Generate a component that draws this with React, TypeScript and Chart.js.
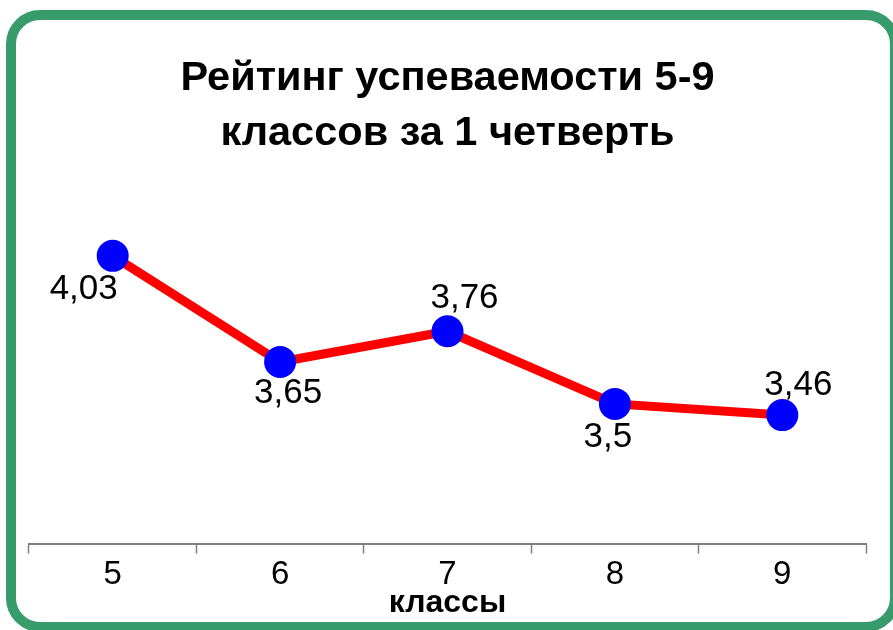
import React, { useEffect, useRef } from "react";
import { Chart, registerables } from "chart.js";

Chart.register(...registerables);

const categories = ["5", "6", "7", "8", "9"];
const ratings = [4.03, 3.65, 3.76, 3.5, 3.46];
const valueLabels = ["4,03", "3,65", "3,76", "3,5", "3,46"];
const titleLines = ["Рейтинг успеваемости 5-9", "классов за 1 четверть"];
const axisTitle = "классы";

// label placement relative to the point (dx, dy) in px
const labelOffsets = [
  [-29, 34],
  [8, 31],
  [17, -33],
  [-7, 33],
  [16, -30],
];

const FONT = "'Liberation Sans', Arial, sans-serif";

const valueLabelPlugin = {
  id: "valueLabels",
  afterDatasetsDraw(chart: any) {
    const meta = chart.getDatasetMeta(0);
    const ctx = chart.ctx;
    ctx.save();
    ctx.font = `35px ${FONT}`;
    ctx.fillStyle = "#000000";
    ctx.textAlign = "center";
    ctx.textBaseline = "middle";
    meta.data.forEach((pt: any, i: number) => {
      const [dx, dy] = labelOffsets[i];
      ctx.fillText(valueLabels[i], pt.x + dx, pt.y + dy);
    });
    ctx.restore();
  },
};

export default function App() {
  const ref = useRef<HTMLCanvasElement | null>(null);

  useEffect(() => {
    document.body.style.margin = "0";
    document.body.style.overflow = "hidden";
    const chart = new Chart(ref.current as HTMLCanvasElement, {
      type: "line",
      data: {
        labels: categories,
        datasets: [
          {
            data: ratings,
            borderColor: "#FF0000",
            borderWidth: 9,
            pointRadius: 16,
            pointHoverRadius: 16,
            pointBackgroundColor: "#0000FF",
            pointBorderColor: "#0000FF",
            pointBorderWidth: 0,
            tension: 0,
            clip: false as any,
          },
        ],
      },
      options: {
        animation: false,
        responsive: false,
        maintainAspectRatio: false,
        events: [],
        layout: { padding: { left: 29, right: 27, top: 0, bottom: 20 } },
        plugins: {
          legend: { display: false },
          tooltip: { enabled: false },
          title: {
            display: true,
            text: titleLines,
            color: "#000000",
            font: { family: FONT, size: 41.5, weight: "bold", lineHeight: 1.33 },
            padding: { top: 51, bottom: 19 },
          },
        },
        scales: {
          x: {
            offset: true,
            border: { display: true, color: "#808080", width: 2 },
            grid: {
              display: true,
              offset: true,
              drawOnChartArea: false,
              drawTicks: true,
              tickLength: 10,
              tickWidth: 1.5,
              tickColor: "#808080",
            },
            ticks: {
              color: "#000000",
              padding: 8,
              font: { family: FONT, size: 33, lineHeight: 0.8 },
            },
            title: {
              display: true,
              text: axisTitle,
              color: "#000000",
              font: { family: FONT, size: 32, weight: "bold", lineHeight: 0.4375 },
              padding: { top: 0, bottom: 0 },
            },
          },
          y: {
            display: false,
            min: 3,
            max: 4.3,
          },
        },
      },
      plugins: [valueLabelPlugin],
    });
    return () => chart.destroy();
  }, []);

  return (
    <div
      style={{
        position: "fixed",
        left: 0,
        top: 0,
        width: 893,
        height: 630,
        overflow: "hidden",
        background: "#ffffff",
      }}
    >
      <div
        style={{
          position: "absolute",
          left: 6,
          top: 10,
          width: 894,
          height: 622,
          boxSizing: "border-box",
          border: "10px solid #379B6B",
          borderRadius: 34,
        }}
      />
      <canvas
        ref={ref}
        width={893}
        height={630}
        style={{ position: "absolute", left: 0, top: 0, width: 893, height: 630 }}
      />
    </div>
  );
}
